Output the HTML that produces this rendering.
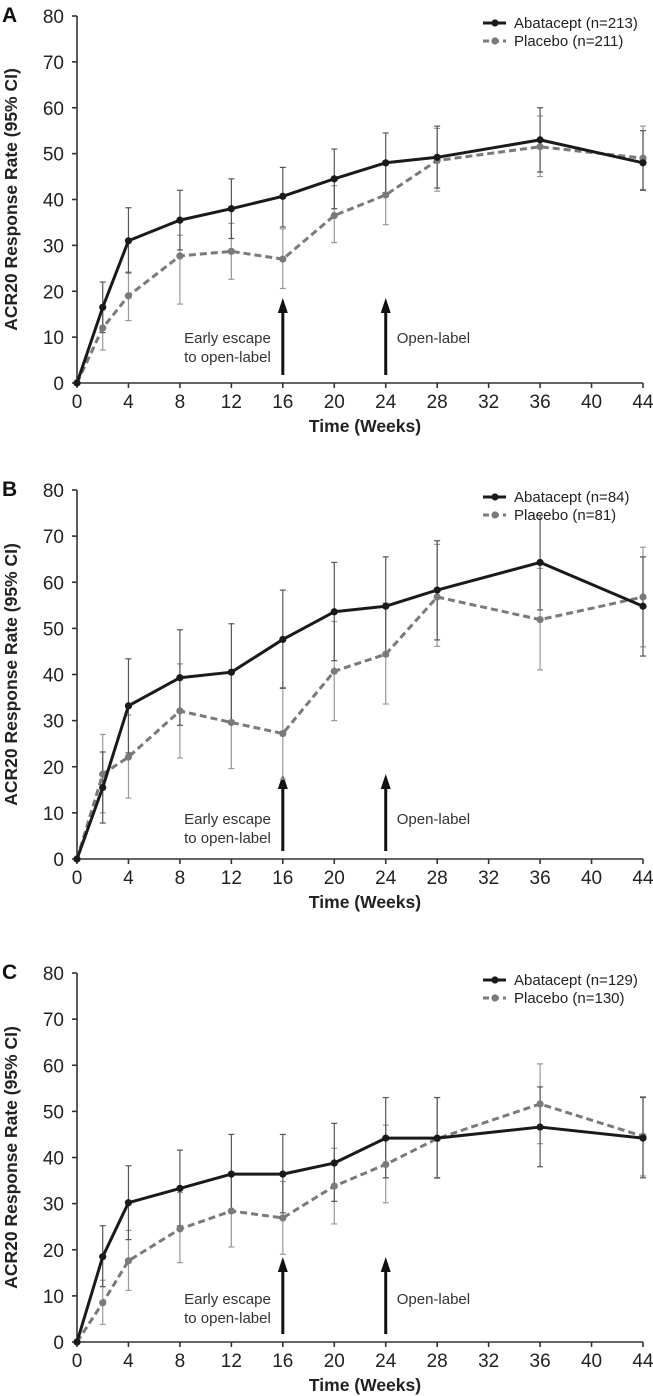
<!DOCTYPE html>
<html><head><meta charset="utf-8">
<style>
html,body{margin:0;padding:0;background:#fff;}
svg{display:block;font-family:"Liberation Sans",Arial,sans-serif;}
</style></head>
<body>
<svg id="chart" width="653" height="1396" viewBox="0 0 653 1396" xmlns="http://www.w3.org/2000/svg"></svg>
<script>
// ---------- data ----------
const weeks = [0, 2, 4, 8, 12, 16, 20, 24, 28, 36, 44];
const xTicks = [0, 4, 8, 12, 16, 20, 24, 28, 32, 36, 40, 44];
const yTicks = [0, 10, 20, 30, 40, 50, 60, 70, 80];
const panelLetters = ["A", "B", "C"];
const abataLabels = ["Abatacept (n=213)", "Abatacept (n=84)", "Abatacept (n=129)"];
const placeboLabels = ["Placebo (n=211)", "Placebo (n=81)", "Placebo (n=130)"];

const abataA = [0, 16.5, 31, 35.5, 38, 40.7, 44.5, 48, 49.2, 53, 48];
const abataALo = [0, 11, 24, 29, 31.5, 34, 38, 41.5, 42.5, 46, 42];
const abataAHi = [0, 22, 38.2, 42, 44.5, 47, 51, 54.5, 56, 60, 55];
const placA = [0, 12, 19, 27.7, 28.7, 27, 36.5, 41, 48.5, 51.5, 49];
const placALo = [0, 7.2, 13.6, 17.2, 22.6, 20.6, 30.6, 34.5, 41.8, 45, 42.2];
const placAHi = [0, 16.8, 24.2, 32.2, 34.8, 33.6, 43, 47.5, 55.5, 58.2, 56];

const abataB = [0, 15.5, 33.2, 39.3, 40.5, 47.6, 53.6, 54.8, 58.3, 64.3, 54.8];
const abataBLo = [0, 7.8, 23, 29, 30, 37, 43, 44, 47.5, 54, 44];
const abataBHi = [0, 23.2, 43.4, 49.7, 51, 58.3, 64.3, 65.5, 69, 74.5, 65.5];
const placB = [0, 18.4, 22.1, 32.1, 29.6, 27.2, 40.7, 44.4, 56.8, 51.9, 56.8];
const placBLo = [0, 10, 13.2, 21.9, 19.6, 17.3, 30, 33.6, 46.1, 41, 46];
const placBHi = [0, 27, 31.2, 42.3, 40, 37.2, 51.5, 55.5, 68.2, 63, 67.6];

const abataC = [0, 18.5, 30.2, 33.3, 36.4, 36.4, 38.8, 44.2, 44.2, 46.6, 44.2];
const abataCLo = [0, 12, 22.2, 25.2, 28, 28, 30.5, 35.6, 35.6, 38, 35.6];
const abataCHi = [0, 25.2, 38.2, 41.6, 45, 45, 47.4, 53, 53, 55.3, 53];
const placC = [0, 8.5, 17.6, 24.5, 28.4, 26.9, 33.8, 38.5, 44.1, 51.6, 44.6];
const placCLo = [0, 3.8, 11.2, 17.2, 20.6, 19, 25.6, 30.2, 35.5, 43, 36];
const placCHi = [0, 13.4, 24.2, 32.4, 36.2, 34.8, 42, 47, 53, 60.3, 53.2];

const abataSeries = [abataA, abataB, abataC];
const abataLoSeries = [abataALo, abataBLo, abataCLo];
const abataHiSeries = [abataAHi, abataBHi, abataCHi];
const placSeries = [placA, placB, placC];
const placLoSeries = [placALo, placBLo, placCLo];
const placHiSeries = [placAHi, placBHi, placCHi];

// ---------- layout ----------
const NS = "http://www.w3.org/2000/svg";
const svg = document.getElementById("chart");
const panelTop = [16, 490, 973];
const panelH = [367, 369, 369];
const x0 = 77, xW = 566, xMax = 44, yMax = 80;
const textOff = [[-40, -21], [-35, -16], [-38, -19]];

function el(tag, attrs, parent) {
  const e = document.createElementNS(NS, tag);
  for (const k in attrs) e.setAttribute(k, attrs[k]);
  (parent || svg).appendChild(e);
  return e;
}

for (let p = 0; p < 3; p++) {
  const top = panelTop[p], h = panelH[p], bottom = top + h;
  const X = v => x0 + v / xMax * xW;
  const Y = v => bottom - v / yMax * h;
  const g = el("g", {});
  
  

  const letter = el("text", {x: 2, y: top + 6, "font-size": 21, "font-weight": "bold", fill: "#111"}, g);
  letter.textContent = panelLetters[p];
  
  

  // axes
  const axes = el("g", {stroke: "#333", "stroke-width": 1.6, fill: "none"}, g);
  
  
  el("line", {x1: x0, y1: top, x2: x0, y2: bottom}, axes);
  el("line", {x1: x0, y1: bottom, x2: x0 + xW, y2: bottom}, axes);
  yTicks.forEach(t => {
    el("line", {x1: x0 - 5, y1: Y(t), x2: x0, y2: Y(t)}, axes);
    const tx = el("text", {x: 64, y: Y(t) + 7, "font-size": 19, "text-anchor": "end", fill: "#222"}, g);
    tx.textContent = t;
    
    
  });
  xTicks.forEach(t => {
    el("line", {x1: X(t), y1: bottom, x2: X(t), y2: bottom + 5}, axes);
    const tx = el("text", {x: X(t), y: bottom + 25, "font-size": 19, "text-anchor": "middle", fill: "#222"}, g);
    tx.textContent = t;
    
    
  });
  const xt = el("text", {x: x0 + xW / 2 + 5, y: bottom + 49, "font-size": 17.5, "font-weight": "bold", "text-anchor": "middle", fill: "#222"}, g);
  xt.textContent = "Time (Weeks)";
  
  
  const yc = top + h / 2;
  const yt = el("text", {x: 0, y: 0, "font-size": 17.5, "font-weight": "bold", "text-anchor": "middle", fill: "#222", transform: "translate(17," + yc + ") rotate(-90)"}, g);
  yt.textContent = "ACR20 Response Rate (95% CI)";
  
  

  // annotations
  [16, 24].forEach((w, i) => {
    const ar = el("g", {}, g);
    
    
    el("line", {x1: X(w), y1: bottom - 8, x2: X(w), y2: bottom - 78, stroke: "#111", "stroke-width": 3}, ar);
    el("polygon", {points: (X(w) - 5) + "," + (bottom - 70) + " " + X(w) + "," + (bottom - 85) + " " + (X(w) + 5) + "," + (bottom - 70), fill: "#111"}, ar);
  });
  const e1 = el("text", {x: X(16) - 12, y: bottom + textOff[p][0], "font-size": 15, "text-anchor": "end", fill: "#333"}, g);
  e1.textContent = "Early escape";
  
  
  const e2 = el("text", {x: X(16) - 12, y: bottom + textOff[p][1], "font-size": 15, "text-anchor": "end", fill: "#333"}, g);
  e2.textContent = "to open-label";
  
  
  const o1 = el("text", {x: X(24) + 11, y: bottom + textOff[p][0], "font-size": 15, fill: "#333"}, g);
  o1.textContent = "Open-label";
  
  

  // error bars
  function bars(lo, hi, color, name) {
    const eb = el("g", {stroke: color, "stroke-width": 1.2}, g);
    
    
    weeks.forEach((w, i) => {
      if (w === 0) return;
      el("line", {x1: X(w), y1: Y(lo[i]), x2: X(w), y2: Y(hi[i])}, eb);
      el("line", {x1: X(w) - 3, y1: Y(lo[i]), x2: X(w) + 3, y2: Y(lo[i])}, eb);
      el("line", {x1: X(w) - 3, y1: Y(hi[i]), x2: X(w) + 3, y2: Y(hi[i])}, eb);
    });
  }
  bars(placLoSeries[p], placHiSeries[p], "#999", "placebo-error-bars");
  bars(abataLoSeries[p], abataHiSeries[p], "#555", "abatacept-error-bars");

  function series(vals, color, dash, name) {
    const sg = el("g", {}, g);
    
    
    const pts = weeks.map((w, i) => X(w) + "," + Y(vals[i])).join(" ");
    const attrs = {points: pts, fill: "none", stroke: color, "stroke-width": 3, "stroke-linejoin": "round"};
    if (dash) attrs["stroke-dasharray"] = dash;
    el("polyline", attrs, sg);
    weeks.forEach((w, i) => {
      const c = el("circle", {cx: X(w), cy: Y(vals[i]), r: 3.6, fill: color}, sg);
      
      
    });
  }
  series(placSeries[p], "#7a7a7a", "7 4", "placebo-line");
  series(abataSeries[p], "#1a1a1a", null, "abatacept-line");

  // legend
  const lg = el("g", {}, g);
  
  
  const l1 = el("g", {}, lg);
  
  
  el("line", {x1: 483, y1: top + 7, x2: 506, y2: top + 7, stroke: "#1a1a1a", "stroke-width": 3}, l1);
  el("circle", {cx: 495, cy: top + 7, r: 3.6, fill: "#1a1a1a"}, l1);
  const lt1 = el("text", {x: 514, y: top + 12, "font-size": 15, fill: "#222"}, l1);
  lt1.textContent = abataLabels[p];
  const l2 = el("g", {}, lg);
  
  
  el("line", {x1: 483, y1: top + 25, x2: 506, y2: top + 25, stroke: "#7a7a7a", "stroke-width": 3, "stroke-dasharray": "6 4"}, l2);
  el("circle", {cx: 495, cy: top + 25, r: 3.6, fill: "#7a7a7a"}, l2);
  const lt2 = el("text", {x: 514, y: top + 30, "font-size": 15, fill: "#222"}, l2);
  lt2.textContent = placeboLabels[p];
}
</script>
</body></html>
